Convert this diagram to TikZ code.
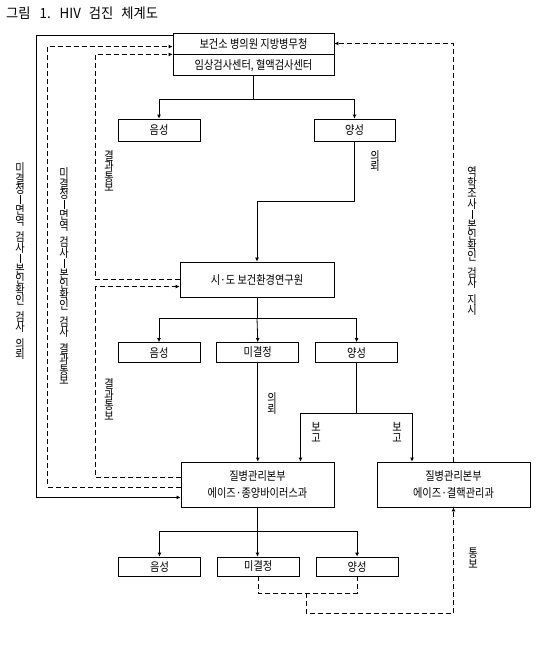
\documentclass[tikz,border=0pt]{standalone}
\usepackage{fontspec}
\setmainfont{Noto Sans CJK KR}[FakeStretch=0.85]
\newfontfamily\titlefont{Noto Sans CJK KR}[FakeStretch=0.95]
\usepackage{tikz}
\usetikzlibrary{arrows.meta,positioning}
\newcommand\vhy{\rule{0.6pt}{9pt}}
\newcommand\vfont{\fontsize{12}{10.5}\selectfont\lineskiplimit=-20pt\relax}

\begin{document}
\begin{tikzpicture}[x=1pt,y=-1pt,
  box/.style={draw,line width=0.8pt,inner sep=0pt,align=center,
              font=\fontsize{12}{17}\selectfont},
  sbox/.style={box,minimum width=82pt,minimum height=20pt},
  arr/.style={-{Latex[length=4pt,width=4pt]},line width=0.8pt},
  dsh/.style={line width=0.8pt,dash pattern=on 5pt off 3pt},
  darr/.style={arr,dash pattern=on 5pt off 3pt},
  vlab/.style={inner sep=0pt,align=center,font=\vfont}
]
\fill[white] (0,0) rectangle (542,648);
\useasboundingbox (0,0) rectangle (542,648);
\node[anchor=west,inner sep=0pt,font=\titlefont\fontsize{14}{14}\selectfont] (title) at (6,13)
  {그림\hspace{6pt} 1.\hspace{5pt} HIV\hspace{5pt} 검진\hspace{5pt} 체계도};
% first level
\node[box,minimum width=161pt,minimum height=21pt] (top1) at (253.5,43.5) {보건소 병의원 지방병무청};
\node[box,minimum width=161pt,minimum height=21pt,below=0pt of top1] (top2) {임상검사센터, 혈액검사센터};
\node[box,minimum width=82pt,minimum height=22pt] (neg1) at (159,130) {음성};
\node[box,minimum width=81pt,minimum height=22pt] (pos1) at (354.5,130) {양성};
% second level
\node[box,minimum width=154pt,minimum height=35pt] (sido) at (257,279.5) {시·도 보건환경연구원};
\node[sbox] (neg2) at (159,352.5) {음성};
\node[sbox,right=16pt of neg2] (und2) {미결정};
\node[sbox,right=16pt of und2] (pos2) {양성};
% third level
\node[box,minimum width=153pt,minimum height=45pt] (kcdc1) at (257.5,484.5) {질병관리본부\\에이즈·종양바이러스과};
\node[box,minimum width=153pt,minimum height=45pt] (kcdc2) at (453.5,484.5) {질병관리본부\\에이즈·결핵관리과};
\node[sbox,minimum height=19pt] (neg3) at (159.5,566.5) {음성};
\node[sbox,minimum height=19pt,right=16pt of neg3] (und3) {미결정};
\node[sbox,minimum height=19pt,right=16pt of und3] (pos3) {양성};

% solid connectors
\draw[line width=0.8pt] (top2.south) -- ++(0,23) coordinate (s1);
\draw[arr] (s1) -| (neg1.north);
\draw[arr] (s1) -| (pos1.north);
\draw[arr] (pos1.south) -- ++(0,60) -| (sido.north);
\draw[line width=0.8pt] (sido.south) -- ++(0,21) coordinate (s2);
\draw[arr] (s2) -| (neg2.north);
\draw[arr] (s2) -- (und2.north);
\draw[arr] (s2) -| (pos2.north);
\draw[arr] (und2.south) -- (und2.south |- kcdc1.north);
\draw[line width=0.8pt] (pos2.south) -- ++(0,50) coordinate (s4);
\draw[arr] (s4) -| ([xshift=43pt]kcdc1.north);
\draw[arr] (s4) -| ([xshift=-41.5pt]kcdc2.north);
\draw[line width=0.8pt] (kcdc1.south) -- ++(0,24) coordinate (s3);
\draw[arr] (s3) -| (neg3.north);
\draw[arr] (s3) -- (s3 |- und3.north);
\draw[arr] (s3) -| (pos3.north);
\draw[arr] ([yshift=-3pt]top1.north west) -- ++(-136,0) |- ([yshift=10pt]kcdc1.south west);

% dashed connectors
\draw[darr] ([yshift=20pt]kcdc1.south west) -- ++(-133,0) |- ([yshift=-14pt]top1.north west);
\draw[darr] ([yshift=-18pt]sido.north west) -- ++(-84,0) |- (top1.south west);
\draw[darr] ([yshift=-16pt]kcdc1.north west) -- ++(-85,0) |- ([yshift=-25pt]sido.north west);
\draw[darr] (kcdc2.north) |- (top1.east);
\draw[dsh] (und3.south) -- ++(0,17) -| (pos3.south);
\coordinate (jn) at (306,593);
\draw[darr] (jn) -- ++(0,20) -| (kcdc2.south);

% vertical labels
\node[vlab] (l1) at (20,261.5) {미\\결\\정\\\vhy\\면\\역\\[6pt]검\\사\\\vhy\\본\\인\\확\\인\\[6pt]검\\사\\[6pt]의\\뢰};
\node[vlab] (l2) at (64,276.5) {미\\결\\정\\\vhy\\면\\역\\[6pt]검\\사\\\vhy\\본\\인\\확\\인\\[6pt]검\\사\\[6pt]결\\과\\통\\보};
\node[vlab] (l3) at (109,171) {결\\과\\통\\보};
\node[vlab] (l4) at (109,399.5) {결\\과\\통\\보};
\node[vlab] (l5) at (375,161) {의\\뢰};
\node[vlab] (l6) at (472,241.5) {역\\학\\조\\사\\\vhy\\본\\인\\확\\인\\[6pt]검\\사\\[6pt]지\\시};
\node[vlab] (l7) at (272,403.5) {의\\뢰};
\node[vlab] (l8) at (316,432.5) {보\\고};
\node[vlab] (l9) at (397,432.5) {보\\고};
\node[vlab] (l10) at (473,558) {통\\보};
\end{tikzpicture}
\end{document}
